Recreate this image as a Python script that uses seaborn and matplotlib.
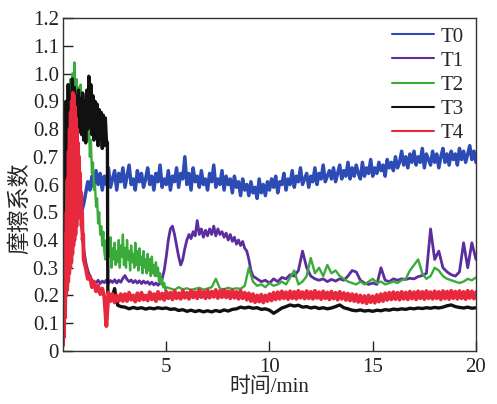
import numpy as np
import pandas as pd
import matplotlib
matplotlib.use("Agg")
import matplotlib.pyplot as plt
from matplotlib.lines import Line2D
import seaborn as sns

# ---------------- data ----------------
series_names = ["T0", "T1", "T2", "T3", "T4"]
series_colors = ["#2d4bb5", "#5b2d9e", "#3aaa3a", "#111111", "#e8283c"]
series_widths = [2.5, 2.0, 1.7, 2.4, 2.8]

x_ticks = [5, 10, 15, 20]
x_tick_labels = ["5", "10", "15", "20"]
y_ticks = [0, 0.1, 0.2, 0.3, 0.4, 0.5, 0.6, 0.7, 0.8, 0.9, 1.0, 1.1, 1.2]
y_tick_labels = ["0", "0.1", "0.2", "0.3", "0.4", "0.5", "0.6", "0.7", "0.8",
                 "0.9", "1.0", "1.1", "1.2"]

# T0 : sampled every 0.1 min, 0 .. 20 min
t0_time = np.round(np.linspace(0, 20, 201), 3)
t0_cof = [
    0.30, 0.55, 0.72, 0.70, 0.68, 0.62, 0.58, 0.55, 0.52, 0.50,
    0.53, 0.57, 0.61, 0.58, 0.63, 0.59, 0.65, 0.60, 0.64, 0.58,
    0.63, 0.60, 0.66, 0.59, 0.62, 0.65, 0.58, 0.64, 0.61, 0.66,
    0.59, 0.63, 0.67, 0.60, 0.62, 0.58, 0.65, 0.61, 0.64, 0.59,
    0.62, 0.66, 0.60, 0.63, 0.58, 0.64, 0.61, 0.67, 0.59, 0.62,
    0.60, 0.65, 0.58, 0.63, 0.61, 0.66, 0.59, 0.64, 0.62, 0.70,
    0.60, 0.64, 0.58, 0.66, 0.61, 0.63, 0.59, 0.65, 0.60, 0.62,
    0.58, 0.64, 0.61, 0.67, 0.59, 0.62, 0.60, 0.65, 0.58, 0.63,
    0.60, 0.62, 0.57, 0.63, 0.59, 0.61, 0.56, 0.62, 0.58, 0.60,
    0.56, 0.61, 0.57, 0.59, 0.55, 0.62, 0.57, 0.60, 0.56, 0.61,
    0.58, 0.62, 0.59, 0.63, 0.57, 0.61, 0.60, 0.64, 0.58, 0.62,
    0.60, 0.65, 0.59, 0.63, 0.61, 0.66, 0.60, 0.62, 0.64, 0.59,
    0.63, 0.61, 0.66, 0.60, 0.64, 0.62, 0.67, 0.61, 0.63, 0.65,
    0.62, 0.66, 0.61, 0.64, 0.67, 0.62, 0.65, 0.63, 0.68, 0.62,
    0.66, 0.63, 0.67, 0.64, 0.62, 0.68, 0.63, 0.66, 0.64, 0.69,
    0.63, 0.66, 0.64, 0.68, 0.65, 0.67, 0.63, 0.69, 0.66, 0.68,
    0.65, 0.70, 0.66, 0.68, 0.72, 0.67, 0.70, 0.66, 0.71, 0.68,
    0.72, 0.67, 0.70, 0.68, 0.73, 0.66, 0.71, 0.69, 0.67, 0.72,
    0.68, 0.71, 0.66, 0.70, 0.73, 0.68, 0.71, 0.67, 0.72, 0.69,
    0.71, 0.67, 0.73, 0.69, 0.72, 0.68, 0.71, 0.74, 0.69, 0.72, 0.68,
]

# T1
t1_time = np.concatenate([np.round(np.linspace(0.9, 9.4, 86), 3),
                          np.round(np.linspace(9.6, 20, 53), 3)])
t1_cof = [
    0.45, 0.37, 0.32, 0.29, 0.27, 0.255, 0.25,
    0.245, 0.255, 0.243, 0.252, 0.246, 0.256, 0.244, 0.254, 0.247, 0.257,
    0.245, 0.255, 0.248, 0.262, 0.272, 0.258, 0.25, 0.256, 0.246, 0.254,
    0.245, 0.253, 0.243, 0.252, 0.244, 0.25, 0.24, 0.248, 0.238, 0.245,
    0.237, 0.245, 0.26,
    0.29, 0.34, 0.40, 0.44, 0.45, 0.42, 0.38, 0.34, 0.31, 0.33,
    0.37, 0.40, 0.42, 0.405, 0.43, 0.415, 0.47, 0.42, 0.44, 0.41,
    0.435, 0.415, 0.44, 0.42, 0.45, 0.415, 0.44, 0.42, 0.43, 0.41,
    0.425, 0.40, 0.42, 0.395, 0.41, 0.385, 0.40, 0.38, 0.395, 0.37,
    0.36, 0.33, 0.29, 0.27, 0.265, 0.26,
    0.25, 0.255, 0.245, 0.26, 0.25, 0.265, 0.26, 0.275, 0.27, 0.29,
    0.36, 0.30, 0.27, 0.26, 0.255, 0.26, 0.25, 0.258, 0.252, 0.26,
    0.255, 0.27, 0.29, 0.285, 0.255, 0.245, 0.24, 0.245, 0.24, 0.30,
    0.255, 0.25, 0.26, 0.255, 0.26, 0.258, 0.262, 0.26, 0.268, 0.272,
    0.28, 0.44, 0.33, 0.36, 0.30, 0.285, 0.275, 0.27, 0.285, 0.39,
    0.30, 0.39, 0.33,
]

# T2
t2_time = np.concatenate([np.round(np.linspace(0, 5.0, 101), 3),
                          np.round(np.linspace(5.2, 20, 75), 3)])
t2_cof = [
    0.02, 0.35, 0.70, 0.88, 0.80, 0.95, 0.86, 0.98, 0.90, 1.00,
    0.92, 1.04, 0.90, 0.98, 0.86, 0.95, 0.85, 0.96, 0.84, 0.93,
    0.82, 0.92, 0.80, 0.90, 0.76, 0.84, 0.70, 0.76, 0.64, 0.68,
    0.58, 0.60, 0.52, 0.55, 0.46, 0.50, 0.42, 0.45, 0.38, 0.43,
    0.36,
    0.33, 0.40, 0.31, 0.38, 0.34, 0.41, 0.30, 0.37, 0.33, 0.39,
    0.31, 0.36, 0.32, 0.40, 0.30, 0.38, 0.34, 0.42, 0.31, 0.37,
    0.30, 0.40, 0.33, 0.36, 0.29, 0.38, 0.32, 0.35, 0.30, 0.39,
    0.31, 0.36, 0.29, 0.37, 0.31, 0.34, 0.28, 0.36, 0.30, 0.33,
    0.28, 0.35, 0.29, 0.33, 0.27, 0.34, 0.28, 0.31, 0.27, 0.32,
    0.27, 0.30, 0.25, 0.28, 0.24, 0.26, 0.23, 0.245, 0.22, 0.23,
    0.225, 0.22, 0.23, 0.222, 0.226, 0.22, 0.224, 0.228, 0.221, 0.225,
    0.23, 0.26, 0.225, 0.222, 0.228, 0.223, 0.226, 0.224, 0.235, 0.30,
    0.25, 0.235, 0.24, 0.23, 0.245, 0.235, 0.24, 0.25, 0.24, 0.265,
    0.29, 0.24, 0.25, 0.27, 0.335, 0.28, 0.30, 0.27, 0.31, 0.28,
    0.29, 0.27, 0.26, 0.25, 0.245, 0.24, 0.25, 0.24, 0.25, 0.26,
    0.245, 0.25, 0.24, 0.245, 0.25, 0.245, 0.255, 0.26, 0.29, 0.31,
    0.33, 0.28, 0.26, 0.27, 0.30, 0.29, 0.27, 0.26, 0.255, 0.25,
    0.245, 0.25, 0.26, 0.255, 0.265,
]

# T3
t3_time = np.concatenate([np.round(np.linspace(0, 2.15, 44), 3),
                          [2.17, 2.3, 2.4, 2.5, 2.55, 2.65, 2.8],
                          np.round(np.linspace(3.0, 20, 86), 3)])
t3_cof = [
    0.30, 0.72, 0.62, 0.90, 0.70, 0.96, 0.78, 0.93, 0.80, 0.98,
    0.84, 0.95, 0.82, 0.92, 0.80, 0.94, 0.79, 0.91, 0.78, 0.93,
    0.76, 0.90, 0.75, 0.94, 0.80, 0.99, 0.82, 0.96, 0.78, 0.92,
    0.76, 0.90, 0.77, 0.89, 0.74, 0.87, 0.76, 0.86, 0.73, 0.85,
    0.74, 0.84, 0.76, 0.75,
    0.21, 0.19, 0.20, 0.225, 0.20, 0.165, 0.16,
    0.158, 0.152, 0.157, 0.153, 0.156, 0.151, 0.155, 0.152, 0.156, 0.153,
    0.155, 0.15, 0.152, 0.146, 0.149, 0.143, 0.147, 0.142, 0.146, 0.141,
    0.145, 0.141, 0.146, 0.142, 0.148, 0.144, 0.15, 0.152, 0.158, 0.155,
    0.158, 0.154, 0.156, 0.15, 0.152, 0.147, 0.136, 0.145, 0.155, 0.16,
    0.166, 0.162, 0.165, 0.158, 0.16, 0.155, 0.158, 0.153, 0.156, 0.152,
    0.155, 0.16, 0.166, 0.156, 0.152, 0.147, 0.145, 0.148, 0.144, 0.146,
    0.143, 0.147, 0.145, 0.149, 0.147, 0.151, 0.149, 0.152, 0.15, 0.154,
    0.152, 0.155, 0.153, 0.156, 0.154, 0.157, 0.155, 0.158, 0.163, 0.166,
    0.16, 0.157, 0.155, 0.158, 0.154, 0.156,
]

# T4
t4_time = np.concatenate([np.round(np.linspace(0, 1.0, 41), 3),
                          np.round(np.linspace(1.1, 20, 190), 3)])
t4_cof = [
    0.02, 0.18, 0.05, 0.30, 0.12, 0.42, 0.20, 0.50, 0.22, 0.62,
    0.25, 0.72, 0.28, 0.80, 0.30, 0.86, 0.32, 0.90, 0.35, 0.93,
    0.38, 0.92, 0.40, 0.88, 0.42, 0.84, 0.45, 0.80, 0.48, 0.75,
    0.50, 0.70, 0.50, 0.64, 0.48, 0.57, 0.45, 0.50, 0.40, 0.42,
    0.33,
    0.30, 0.26, 0.27, 0.23, 0.25, 0.215, 0.235, 0.205, 0.225,
    0.195, 0.09, 0.21, 0.18, 0.205, 0.175, 0.20, 0.18, 0.205, 0.18,
    0.205, 0.18, 0.21, 0.185, 0.20, 0.178, 0.208, 0.183, 0.21, 0.185,
    0.20, 0.182, 0.212, 0.186, 0.205, 0.18, 0.213, 0.188, 0.207, 0.184,
    0.214, 0.19, 0.21, 0.186, 0.216, 0.19, 0.208, 0.188, 0.217, 0.192,
    0.21, 0.188, 0.218, 0.193, 0.212, 0.19, 0.22, 0.194, 0.213, 0.19,
    0.219, 0.192, 0.214, 0.195, 0.22, 0.191, 0.216, 0.194, 0.221, 0.193,
    0.215, 0.19, 0.219, 0.192, 0.213, 0.188, 0.217, 0.19, 0.21, 0.185,
    0.208, 0.18, 0.205, 0.176, 0.20, 0.178, 0.203, 0.175, 0.20, 0.18,
    0.205, 0.182, 0.21, 0.186, 0.212, 0.188, 0.215, 0.19, 0.212, 0.187,
    0.215, 0.19, 0.213, 0.188, 0.217, 0.192, 0.212, 0.189, 0.216, 0.19,
    0.213, 0.188, 0.217, 0.191, 0.212, 0.187, 0.215, 0.19, 0.211, 0.186,
    0.214, 0.189, 0.21, 0.185, 0.213, 0.188, 0.209, 0.184, 0.207, 0.182,
    0.205, 0.18, 0.203, 0.177, 0.20, 0.175, 0.198, 0.172, 0.20, 0.176,
    0.197, 0.174, 0.202, 0.178, 0.205, 0.18, 0.208, 0.184, 0.21, 0.186,
    0.212, 0.187, 0.21, 0.185, 0.213, 0.188, 0.211, 0.186, 0.214, 0.189,
    0.212, 0.186, 0.215, 0.19, 0.213, 0.187, 0.216, 0.19, 0.212, 0.188,
    0.215, 0.19, 0.213, 0.186, 0.216, 0.189, 0.214, 0.187, 0.217, 0.19,
    0.214, 0.188, 0.216, 0.19, 0.213, 0.187, 0.217, 0.191, 0.215, 0.189, 0.212,
]

series_times = [t0_time, t1_time, t2_time, t3_time, t4_time]
series_values = [t0_cof, t1_cof, t2_cof, t3_cof, t4_cof]

# ---------------- plot ----------------
sns.set_style("ticks")
plt.rcParams["font.family"] = ["Liberation Serif", "Noto Sans CJK SC"]

fig = plt.figure(figsize=(4.97, 4.04), dpi=100)
ax = fig.add_axes([0.1268, 0.1312, 0.8309, 0.8242])

for name, tt, vv, col, lw in zip(series_names, series_times, series_values,
                                 series_colors, series_widths):
    df = pd.DataFrame({"time": tt, "cof": vv})
    sns.lineplot(data=df, x="time", y="cof", estimator=None, sort=False,
                 color=col, linewidth=lw, ax=ax, legend=False)

ax.set_xlim(0, 20)
ax.set_ylim(0, 1.2)
ax.set_xticks(x_ticks)
ax.set_xticklabels(x_tick_labels)
ax.set_yticks(y_ticks)
ax.set_yticklabels(y_tick_labels)
ax.tick_params(axis="both", direction="in", length=7, width=1,
               labelsize=15, colors="#222222")
ax.tick_params(axis="x", pad=5)
ax.tick_params(axis="y", pad=3)
for sp in ax.spines.values():
    sp.set_visible(True)
    sp.set_linewidth(1.0)
    sp.set_color("#333333")

ax.set_xlabel("时间/min", fontsize=15, family=["Liberation Serif", "Noto Sans CJK SC"],
              labelpad=0)
ax.set_ylabel("摩擦系数", fontsize=16.5, family=["Noto Sans CJK SC"])
ax.yaxis.set_label_coords(-0.078, 0.43)

handles = [Line2D([0], [0], color=c, lw=1.5) for c in series_colors]
ax.legend(handles, series_names, loc="upper right", frameon=False,
          fontsize=15, handlelength=2.0, handletextpad=0.3,
          labelspacing=0.22, borderaxespad=0.0, bbox_to_anchor=(0.99, 0.998))

fig.savefig("out.png", dpi=100)
